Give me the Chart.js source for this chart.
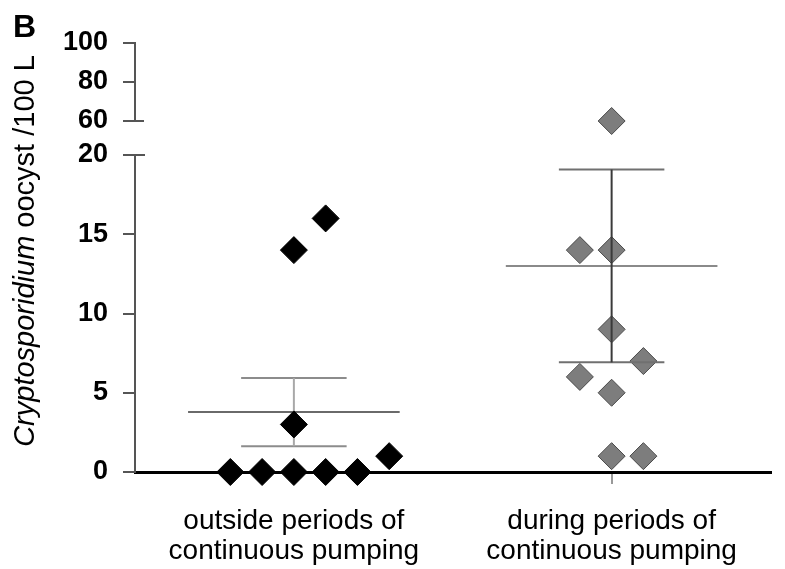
<!DOCTYPE html>
<html>
<head>
<meta charset="utf-8">
<script src="https://cdn.jsdelivr.net/npm/chart.js@4/dist/chart.umd.min.js"></script>
<style>
	html, body { margin: 0; padding: 0; background: #fff; }
	#chart { display: block; }
</style>
</head>
<body>
<canvas id="chart" width="785" height="569"></canvas>
<script>
// data
const categoryLabels = [
	['outside periods of', 'continuous pumping'],
	['during periods of', 'continuous pumping'],
];
const outsideValues = [0, 0, 0, 0, 0, 1, 3, 14, 16];
const outsideJitter = [-0.2, -0.1, 0, 0.1, 0.2, 0.3, 0, 0, 0.1];
const duringValues = [60, 14, 14, 9, 7, 6, 5, 1, 1];
const duringJitter = [0, -0.1, 0, 0, 0.1, -0.1, 0, 0, 0.1];
const lowerTicks = [0, 5, 10, 15, 20];
const upperTicks = [60, 80, 100];
const axisTitle = ['Cryptosporidium', ' oocyst /100 L'];
const panelLabel = 'B';

const FONT = "'Liberation Sans', Arial, sans-serif";
Chart.defaults.font.family = FONT;
Chart.defaults.color = '#000';

let lowMax = lowerTicks[lowerTicks.length - 1];

// mean +- SEM of a group
let meanOf = arr => arr.reduce((s, v) => s + v, 0) / arr.length;
let semOf = (arr) => {
	let m = meanOf(arr);
	let sd = Math.sqrt(arr.reduce((s, v) => s + (v - m) ** 2, 0) / (arr.length - 1));
	return sd / Math.sqrt(arr.length);
};

let toPoints = (values, jitter, group) => values.map((v, i) => ({ x: group + jitter[i], y: v }));

let pointSet = (data, fill, border, yAxisID) => ({
	type: 'scatter',
	data,
	yAxisID,
	pointStyle: 'rectRot',
	pointRadius: 13.5,
	backgroundColor: fill,
	borderColor: border,
	borderWidth: 1,
	clip: false,
});

let lineSet = (data, color) => ({
	type: 'line',
	data,
	yAxisID: 'yBottom',
	showLine: true,
	borderColor: color,
	borderWidth: 2,
	pointRadius: 0,
	fill: false,
	clip: false,
});

// mean line, SEM caps and whisker for one group
let errorBarSets = (values, group, c) => {
	let m = meanOf(values);
	let s = semOf(values);
	return [
		lineSet([{ x: group, y: m - s }, { x: group, y: m + s }], c.whisker),
		lineSet([{ x: group - 0.333, y: m }, { x: group + 0.333, y: m }], c.mean),
		lineSet([{ x: group - 0.166, y: m + s }, { x: group + 0.166, y: m + s }], c.cap),
		lineSet([{ x: group - 0.166, y: m - s }, { x: group + 0.166, y: m - s }], c.cap),
	];
};

let duringPts = toPoints(duringValues, duringJitter, 1);

// first dataset is drawn on top
let datasets = [
	...errorBarSets(duringValues, 1, { whisker: '#3a3a3a', mean: '#8a8a8a', cap: '#707070' }),
	pointSet(duringPts.filter(p => p.y <= lowMax), '#7d7d7d', '#4a4a4a', 'yBottom'),
	pointSet(duringPts.filter(p => p.y > lowMax), '#7d7d7d', '#4a4a4a', 'yTop'),
	pointSet(toPoints(outsideValues, outsideJitter, 0), '#000', '#000', 'yBottom'),
	...errorBarSets(outsideValues, 0, { whisker: '#a8a8a8', mean: '#6a6a6a', cap: '#8c8c8c' }),
];

let yScale = (ticks, weight, order) => ({
	position: 'left',
	stack: 'broken',
	stackWeight: weight,
	weight: order,
	min: ticks[0],
	max: ticks[ticks.length - 1],
	afterBuildTicks: (scale) => { scale.ticks = ticks.map(v => ({ value: v })); },
	afterFit: (scale) => { scale.width = 135; },
	border: { color: '#555', width: 2 },
	grid: { drawOnChartArea: false, color: '#555', lineWidth: 2, tickLength: 12 },
	ticks: { autoSkip: false, padding: 15, font: { size: 27, weight: 'bold' }, color: '#000' },
});

// break marks: the 60 and 20 ticks poke into the plot
let breakMarks = {
	id: 'breakMarks',
	afterDraw (chart) {
		let { ctx, chartArea, scales } = chart;
		ctx.save();
		ctx.strokeStyle = '#555';
		ctx.lineWidth = 2;
		[[scales.yTop, upperTicks[0], 9], [scales.yBottom, lowMax, 10]].forEach(([sc, v, len]) => {
			let y = sc.getPixelForValue(v);
			ctx.beginPath();
			ctx.moveTo(chartArea.left, y);
			ctx.lineTo(chartArea.left + len, y);
			ctx.stroke();
		});
		ctx.restore();
	},
};

// rotated y title with italic genus name, plus panel letter
let titles = {
	id: 'titles',
	afterDraw (chart) {
		let { ctx } = chart;
		ctx.save();
		ctx.fillStyle = '#000';
		ctx.font = 'bold 32px ' + FONT;
		ctx.textBaseline = 'alphabetic';
		ctx.fillText(panelLabel, 13, 37);

		let italic = 'italic 29px ' + FONT;
		let normal = '29px ' + FONT;
		ctx.font = italic;
		let w1 = ctx.measureText(axisTitle[0]).width;
		ctx.font = normal;
		let w2 = ctx.measureText(axisTitle[1]).width;
		ctx.translate(34, 251);
		ctx.rotate(-Math.PI / 2);
		let x0 = -(w1 + w2) / 2;
		ctx.font = italic;
		ctx.fillText(axisTitle[0], x0, 0);
		ctx.font = normal;
		ctx.fillText(axisTitle[1], x0 + w1, 0);
		ctx.restore();
	},
};

new Chart(document.getElementById('chart'), {
	type: 'scatter',
	data: { datasets },
	options: {
		responsive: false,
		animation: false,
		devicePixelRatio: 1,
		layout: { padding: { top: 43, right: 3, bottom: 0, left: 0 } },
		plugins: {
			legend: { display: false },
			tooltip: { enabled: false },
		},
		scales: {
			x: {
				type: 'linear',
				position: 'bottom',
				min: -0.5,
				max: categoryLabels.length - 0.5,
				afterBuildTicks: (scale) => { scale.ticks = categoryLabels.map((_, i) => ({ value: i })); },
				afterFit: (scale) => { scale.height = 97; },
				border: { color: '#000', width: 3 },
				grid: { drawOnChartArea: false, color: '#999', lineWidth: 2, tickLength: 12 },
				ticks: {
					padding: 22,
					maxRotation: 0,
					autoSkip: false,
					font: { size: 28, lineHeight: 1.07 },
					color: '#000',
					callback: value => categoryLabels[value],
				},
			},
			yBottom: yScale(lowerTicks, 317, 1),
			yGap: {
				position: 'left',
				stack: 'broken',
				stackWeight: 34,
				weight: 2,
				min: 0,
				max: 1,
				afterFit: (scale) => { scale.width = 135; },
				border: { display: false },
				grid: { display: false },
				ticks: { display: false },
			},
			yTop: yScale(upperTicks, 78, 3),
		},
	},
	plugins: [breakMarks, titles],
});
</script>
</body>
</html>
